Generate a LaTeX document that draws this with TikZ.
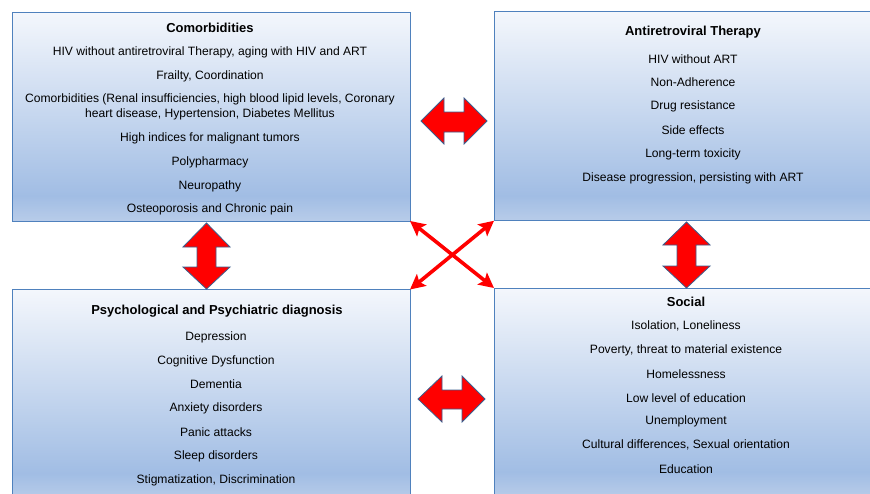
\documentclass[tikz,border=0pt]{standalone}
\usepackage{fontspec}
\setmainfont{Liberation Sans}
\usetikzlibrary{arrows.meta}

\definecolor{boxline}{HTML}{4F81BD}
\definecolor{arrowline}{HTML}{3A5F8E}
\definecolor{fadetop}{HTML}{F4F7FC}
\definecolor{fadedeep}{HTML}{A1BDE4}
\definecolor{fadebase}{HTML}{B8CCE9}

% light at the top, deepest blue near the bottom, a lighter band at the very bottom
\pgfdeclareverticalshading{panelfade}{100bp}{%
  color(0bp)=(fadebase); color(25bp)=(fadebase); color(31bp)=(fadedeep);
  color(75bp)=(fadetop); color(100bp)=(fadetop)}

\tikzset{
  panel/.style={draw=boxline, line width=1pt, shading=panelfade,
    minimum width=398pt, minimum height=209pt, inner sep=0pt, outer sep=0pt},
  head/.style={font=\bfseries\fontsize{13}{15}\selectfont, inner sep=0pt},
  item/.style={font=\fontsize{12.1}{14}\selectfont, inner sep=0pt},
  blockarrow/.style={fill=red, draw=arrowline, line width=0.8pt, line join=miter},
  crossarrow/.style={draw=red, line width=3.6pt,
    {Stealth[length=15pt,width=15pt,inset=3pt]}-{Stealth[length=15pt,width=15pt,inset=3pt]}},
}

\begin{document}
\begin{tikzpicture}[x=1pt, y=-1pt]
\clip (0,0) rectangle (870,493);
\fill[white] (0,0) rectangle (870,493);

% the four panels
\node[panel] (tl) at (211,116.5) {};
\node[panel] (tr) at (693,116.25) {};
\node[panel] (bl) at (211,394) {};
\node[panel] (br) at (693,392.5) {};

% Comorbidities
\node[head] (tl0) at (210,28) {Comorbidities};
\node[item] (tl1) at (210,52) {HIV without antiretroviral Therapy, aging with HIV and ART};
\node[item] (tl2) at (210,76) {Frailty, Coordination};
\node[item] (tl3) at (210,99) {Comorbidities (Renal insufficiencies, high blood lipid levels, Coronary};
\node[item] (tl4) at (210,114) {heart disease, Hypertension, Diabetes Mellitus};
\node[item] (tl5) at (210,138) {High indices for malignant tumors};
\node[item] (tl6) at (210,162) {Polypharmacy};
\node[item] (tl7) at (210,186) {Neuropathy};
\node[item] (tl8) at (210,209) {Osteoporosis and Chronic pain};

% Antiretroviral Therapy
\node[head] (tr0) at (693,32) {Antiretroviral Therapy};
\node[item] (tr1) at (693,59) {HIV without ART};
\node[item] (tr2) at (693,82) {Non-Adherence};
\node[item] (tr3) at (693,106) {Drug resistance};
\node[item] (tr4) at (693,130) {Side effects};
\node[item] (tr5) at (693,154) {Long-term toxicity};
\node[item] (tr6) at (693,178) {Disease progression, persisting with ART};

% Psychological and Psychiatric diagnosis
\node[head] (bl0) at (217,311) {Psychological and Psychiatric diagnosis};
\node[item] (bl1) at (216,337) {Depression};
\node[item] (bl2) at (216,361) {Cognitive Dysfunction};
\node[item] (bl3) at (216,384) {Dementia};
\node[item] (bl4) at (216,408) {Anxiety disorders};
\node[item] (bl5) at (216,432) {Panic attacks};
\node[item] (bl6) at (216,456) {Sleep disorders};
\node[item] (bl7) at (216,480) {Stigmatization, Discrimination};

% Social
\node[head] (br0) at (686,302) {Social};
\node[item] (br1) at (686,326) {Isolation, Loneliness};
\node[item] (br2) at (686,350) {Poverty, threat to material existence};
\node[item] (br3) at (686,374) {Homelessness};
\node[item] (br4) at (686,398) {Low level of education};
\node[item] (br5) at (686,421) {Unemployment};
\node[item] (br6) at (686,445) {Cultural differences, Sexual orientation};
\node[item] (br7) at (686,469) {Education};

% horizontal double block arrows
\draw[blockarrow] (421,121) -- (444,98) -- (444,112) -- (464,112) -- (464,98)
  -- (487,121) -- (464,144) -- (464,132) -- (444,132) -- (444,144) -- cycle;
\draw[blockarrow] (418,399) -- (442,376) -- (442,390) -- (462,390) -- (462,376)
  -- (485,399) -- (462,422) -- (462,409) -- (442,409) -- (442,422) -- cycle;

% vertical double block arrows
\draw[blockarrow] (206.5,223) -- (230,247) -- (216,247) -- (216,267) -- (230,267)
  -- (206.5,289) -- (183,267) -- (197,267) -- (197,247) -- (183,247) -- cycle;
\draw[blockarrow] (686.5,222) -- (710,245) -- (696,245) -- (696,266) -- (710,266)
  -- (686.5,288) -- (663,266) -- (677,266) -- (677,245) -- (663,245) -- cycle;

% diagonal links between opposite corners
\draw[crossarrow] (tl.south east) -- (br.north west);
\draw[crossarrow] (tr.south west) -- (bl.north east);
\end{tikzpicture}
\end{document}
